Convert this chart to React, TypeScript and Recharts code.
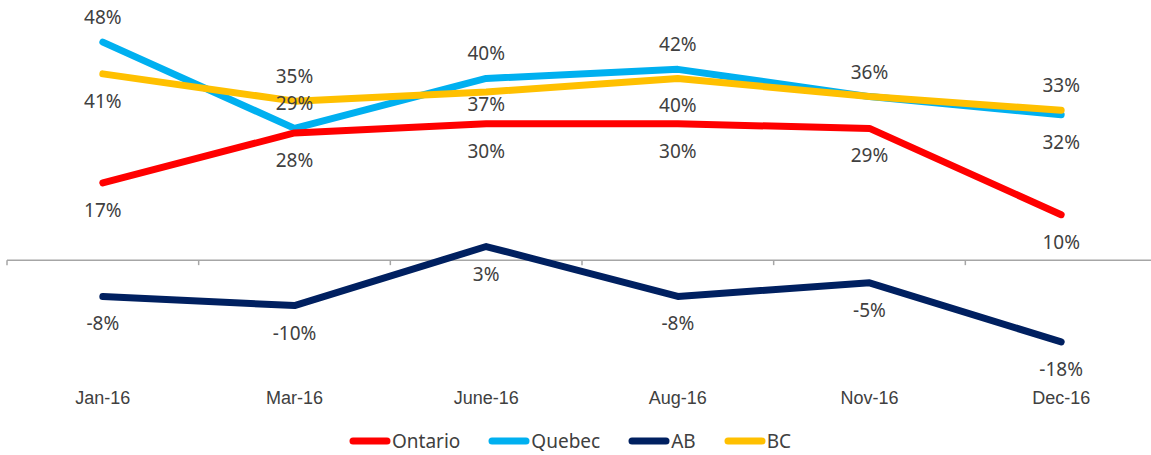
import { LineChart, Line, XAxis, YAxis, ReferenceLine, Legend, LabelList } from "recharts";

const months = ["Jan-16", "Mar-16", "June-16", "Aug-16", "Nov-16", "Dec-16"];
const ontario = [17, 28, 30, 30, 29, 10];
const quebec = [48, 29, 40, 42, 36, 32];
const ab = [-8, -10, 3, -8, -5, -18];
const bc = [41, 35, 37, 40, 36, 33];

// where each value label sits relative to its point
// ("near" = just under the line, "none" = hidden behind another label)
const ontarioSide = ["bottom", "bottom", "bottom", "bottom", "bottom", "bottom"];
const quebecSide = ["top", "top", "top", "top", "top", "bottom"];
const abSide = ["bottom", "bottom", "bottom", "bottom", "bottom", "bottom"];
const bcSide = ["bottom", "top", "near", "bottom", "none", "top"];

const series = [
  { key: "Ontario", color: "#FF0000" },
  { key: "Quebec", color: "#00B0F0" },
  { key: "AB", color: "#002060" },
  { key: "BC", color: "#FFC000" },
];

const data = months.map((m, i) => ({
  month: m,
  Ontario: ontario[i],
  Quebec: quebec[i],
  AB: ab[i],
  BC: bc[i],
}));

const FONT = "'Noto Sans', 'Open Sans', sans-serif";
const OFFSETS: Record<string, number> = { top: -25, bottom: 27, near: 12 };

function makeLabel(sides: string[]) {
  // eslint-disable-next-line @typescript-eslint/no-explicit-any
  return (props: any) => {
    const { x, y, value, index } = props;
    if (x == null || y == null || sides[index] === "none") return null;
    return (
      <text
        x={x}
        y={y + OFFSETS[sides[index]]}
        textAnchor="middle"
        dominantBaseline="central"
        fontSize={19}
        fontFamily={FONT}
        fill="#404040"
      >
        {`${value}%`}
      </text>
    );
  };
}

// zero axis with tick marks at the category boundaries
// eslint-disable-next-line @typescript-eslint/no-explicit-any
function ZeroAxis(props: any) {
  const { x1, y1, x2 } = props;
  if (x1 == null) return null;
  const step = (x2 - x1) / months.length;
  return (
    <g>
      <line x1={x1} y1={y1} x2={x2} y2={y1} stroke="#A6A6A6" strokeWidth={1.5} />
      {months.map((_, i) => (
        <line
          key={i}
          x1={x1 + i * step}
          y1={y1}
          x2={x1 + i * step}
          y2={y1 + 5}
          stroke="#A6A6A6"
          strokeWidth={1.5}
        />
      ))}
      <line x1={x2} y1={y1} x2={x2} y2={y1 + 5} stroke="#A6A6A6" strokeWidth={1.5} />
    </g>
  );
}

function LegendContent() {
  return (
    <div
      style={{
        display: "flex",
        justifyContent: "center",
        alignItems: "center",
        fontFamily: FONT,
        fontSize: 19,
        color: "#404040",
      }}
    >
      {series.map((s, i) => (
        <div
          key={s.key}
          style={{ display: "flex", alignItems: "center", marginRight: i === series.length - 1 ? 0 : 28 }}
        >
          <svg width={42} height={10} style={{ marginRight: 1 }}>
            <line x1={4} y1={5} x2={38} y2={5} stroke={s.color} strokeWidth={7} strokeLinecap="round" />
          </svg>
          <span>{s.key}</span>
        </div>
      ))}
    </div>
  );
}

export default function App() {
  const order = ["Quebec", "Ontario", "AB", "BC"];
  const sides: Record<string, string[]> = {
    Ontario: ontarioSide,
    Quebec: quebecSide,
    AB: abSide,
    BC: bcSide,
  };
  return (
    <div
      style={{
        position: "fixed",
        left: 0,
        top: 0,
        width: 1151,
        height: 455,
        overflow: "hidden",
        background: "#fff",
      }}
    >
      <LineChart
        width={1170}
        height={455}
        data={data}
        margin={{ top: 33, right: 13, left: 7, bottom: 0 }}
      >
        <XAxis
          dataKey="month"
          scale="band"
          height={104}
          axisLine={false}
          tickLine={false}
          tickSize={0}
          tickMargin={40}
          interval={0}
          tick={{ fontSize: 18, fill: "#404040", fontFamily: "'Liberation Sans', Arial, sans-serif" }}
        />
        <YAxis hide domain={[-20, 50]} />
        <ReferenceLine y={0} shape={ZeroAxis} />
        <Legend
          verticalAlign="middle"
          layout="horizontal"
          content={<LegendContent />}
          wrapperStyle={{ top: 428, left: 0, width: 1140 }}
        />
        {order.map((k) => {
          const s = series.find((x) => x.key === k)!;
          return (
            <Line
              key={k}
              type="linear"
              dataKey={k}
              stroke={s.color}
              strokeWidth={7}
              strokeLinecap="round"
              strokeLinejoin="round"
              dot={false}
              activeDot={false}
              isAnimationActive={false}
            >
              <LabelList dataKey={k} content={makeLabel(sides[k])} />
            </Line>
          );
        })}
      </LineChart>
    </div>
  );
}
